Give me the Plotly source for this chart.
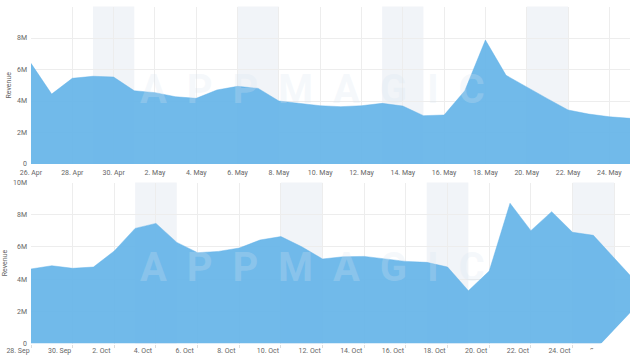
import plotly.graph_objects as go
from plotly.subplots import make_subplots
import pandas as pd

# ---- data ----
top_dates = ["2023-04-26", "2023-04-27", "2023-04-28", "2023-04-29", "2023-04-30",
             "2023-05-01", "2023-05-02", "2023-05-03", "2023-05-04", "2023-05-05",
             "2023-05-06", "2023-05-07", "2023-05-08", "2023-05-09", "2023-05-10",
             "2023-05-11", "2023-05-12", "2023-05-13", "2023-05-14", "2023-05-15",
             "2023-05-16", "2023-05-17", "2023-05-18", "2023-05-19", "2023-05-20",
             "2023-05-21", "2023-05-22", "2023-05-23", "2023-05-24", "2023-05-25"]
top_revenue_m = [6.39, 4.44, 5.44, 5.57, 5.52, 4.65, 4.53, 4.27, 4.17, 4.70,
                 4.93, 4.80, 4.00, 3.83, 3.70, 3.64, 3.70, 3.85, 3.68, 3.07,
                 3.11, 4.65, 7.87, 5.63, 4.87, 4.15, 3.43, 3.17, 3.00, 2.90]

bottom_dates = ["2023-09-28", "2023-09-29", "2023-09-30", "2023-10-01", "2023-10-02",
                "2023-10-03", "2023-10-04", "2023-10-05", "2023-10-06", "2023-10-07",
                "2023-10-08", "2023-10-09", "2023-10-10", "2023-10-11", "2023-10-12",
                "2023-10-13", "2023-10-14", "2023-10-15", "2023-10-16", "2023-10-17",
                "2023-10-18", "2023-10-19", "2023-10-20", "2023-10-21", "2023-10-22",
                "2023-10-23", "2023-10-24", "2023-10-25", "2023-10-26", "2023-10-27"]
bottom_revenue_m = [4.63, 4.83, 4.67, 4.75, 5.75, 7.15, 7.46, 6.28, 5.64, 5.72,
                    5.93, 6.43, 6.64, 6.01, 5.25, 5.39, 5.41, 5.25, 5.10, 5.04,
                    4.75, 3.28, 4.50, 8.71, 7.01, 8.19, 6.91, 6.72, 5.30, 3.90]

top_band_starts = ["2023-04-29", "2023-05-06", "2023-05-13", "2023-05-20"]
bottom_band_starts = ["2023-10-03", "2023-10-10", "2023-10-17", "2023-10-24"]

y_tickvals = [0, 2e6, 4e6, 6e6, 8e6, 10e6]
top_ticktext = ["0", "2M", "4M", "6M", "8M", ""]
bottom_ticktext = ["0", "2M", "4M", "6M", "8M", "10M"]

# ---- figure ----
W, H = 630, 355
fill = "rgba(98,178,232,0.9)"
grid = "#ededed"
font = dict(family="Roboto", size=7, color="#666")

fig = make_subplots(rows=2, cols=1)

fig.add_trace(go.Scatter(x=pd.to_datetime(top_dates), y=[v * 1e6 for v in top_revenue_m],
                         mode="lines", fill="tozeroy", fillcolor=fill,
                         line=dict(color=fill, width=0.5), hoverinfo="skip",
                         showlegend=False), row=1, col=1)
fig.add_trace(go.Scatter(x=pd.to_datetime(bottom_dates), y=[v * 1e6 for v in bottom_revenue_m],
                         mode="lines", fill="tozeroy", fillcolor=fill,
                         line=dict(color=fill, width=0.5), hoverinfo="skip",
                         showlegend=False), row=2, col=1)

def px_y(p):
    return 1 - p / H

xdom = [31 / W, 1.0]
fig.update_layout(
    width=W, height=H, margin=dict(l=0, r=0, t=0, b=0, autoexpand=False),
    paper_bgcolor="white", plot_bgcolor="white", font=font,
    xaxis=dict(domain=xdom, anchor="y", automargin=False,
               range=[pd.Timestamp(top_dates[0]), pd.Timestamp(top_dates[-1])],
               tick0=top_dates[0], dtick=2 * 86400000, tickformat="%-d. %b",
               showgrid=True, gridcolor=grid, gridwidth=1, ticks="", zeroline=False,
               showline=False, tickfont=font, ticklabelstandoff=3),
    yaxis=dict(domain=[px_y(164), px_y(6.5)], anchor="x", range=[0, 10e6],
               automargin=False,
               tickvals=y_tickvals, ticktext=top_ticktext, showgrid=True,
               gridcolor=grid, zeroline=False, tickfont=font, ticks="",
               ticklabelstandoff=3,
               title=dict(text="Revenue", font=font, standoff=4)),
    xaxis2=dict(domain=xdom, anchor="y2", automargin=False,
                range=[pd.Timestamp(bottom_dates[0]),
                       pd.Timestamp(bottom_dates[0]) + pd.Timedelta(hours=28.76 * 24)],
                tick0=bottom_dates[0], dtick=2 * 86400000, tickformat="%-d. %b",
                showgrid=True, gridcolor=grid, ticks="outside", ticklen=3,
                tickcolor="#ddd", zeroline=False, showline=False, tickfont=font,
                ticklabelshift=-13, ticklabelstandoff=-3),
    yaxis2=dict(domain=[px_y(343.5), px_y(182.5)], anchor="x2", range=[0, 10e6],
                automargin=False,
                tickvals=y_tickvals, ticktext=bottom_ticktext, showgrid=True,
                gridcolor=grid, zeroline=False, tickfont=font, ticks="",
                ticklabelstandoff=3,
                title=dict(text="Revenue", font=font, standoff=4)),
)

shapes = []
for s in top_band_starts:
    t = pd.Timestamp(s)
    shapes.append(dict(type="rect", xref="x", yref="y domain", x0=t, x1=t + pd.Timedelta(days=2),
                       y0=0, y1=1, fillcolor="#f1f4f8", line_width=0, layer="below"))
for s in bottom_band_starts:
    t = pd.Timestamp(s)
    shapes.append(dict(type="rect", xref="x2", yref="y2 domain", x0=t, x1=t + pd.Timedelta(days=2),
                       y0=0, y1=1, fillcolor="#f1f4f8", line_width=0, layer="below"))
# white corner cut overlay at bottom right (screenshot artifact)
shapes.append(dict(type="path", xref="paper", yref="paper",
                   path=(f"M {584/W} 0 L {596/W} {1-347/H} L {601.7/W} {1-343/H} "
                         f"L 1 {1-313/H} L 1 0 Z"),
                   fillcolor="white", line_width=0, layer="above"))
fig.update_layout(shapes=shapes)

# watermark
for xr, yr in (("x domain", "y domain"), ("x2 domain", "y2 domain")):
    fig.add_annotation(text="<b>A  P  P  M  A  G  I  C</b>", xref=xr, yref=yr, x=0.47, y=0.47,
                       showarrow=False, font=dict(family="Roboto", size=40,
                                                  color="rgba(215,228,240,0.25)"))

fig.write_html("out.html", config={"displayModeBar": False},
               post_script="document.body.style.margin='0';")
